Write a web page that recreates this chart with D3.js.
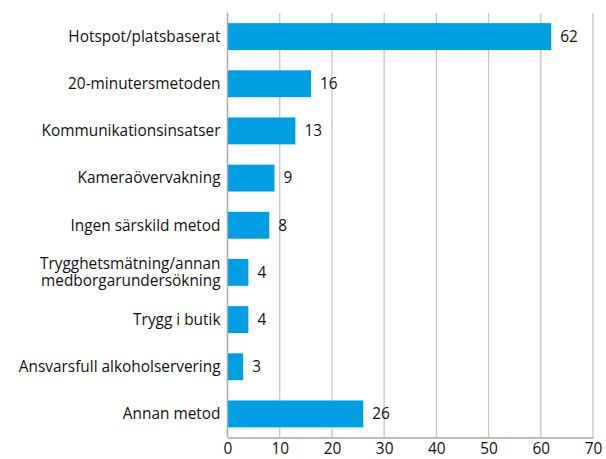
<!DOCTYPE html>
<html>
<head>
<meta charset="utf-8">
<script src="https://cdn.jsdelivr.net/npm/d3@7"></script>
<style>
  body { margin: 0; background: #fff; }
  text { font-family: "Open Sans", "Noto Sans", sans-serif; fill: #111; }
</style>
</head>
<body>
<div id="chart"></div>
<script>
// Data
var categories = [
    "Hotspot/platsbaserat",
    "20-minutersmetoden",
    "Kommunikationsinsatser",
    "Kameraövervakning",
    "Ingen särskild metod",
    "Trygghetsmätning/annan\nmedborgarundersökning",
    "Trygg i butik",
    "Ansvarsfull alkoholservering",
    "Annan metod"
];
var values = [62, 16, 13, 9, 8, 4, 4, 3, 26];
var xTicks = [0, 10, 20, 30, 40, 50, 60, 70];

var width = 606;
var height = 459;
var margin = { top: 13, right: 13, bottom: 21.5, left: 227.5 };
var fontSize = 15.4;

var svg = d3.select("#chart")
    .append("svg")
    .attr("width", width)
    .attr("height", height);

var x = d3.scaleLinear()
    .domain([0, 70])
    .range([margin.left, width - margin.right]);

var y = d3.scaleBand()
    .domain(categories)
    .range([margin.top, height - margin.bottom])
    .paddingInner(0.43)
    .paddingOuter(0.215);

// Vertical gridlines
svg.selectAll(".grid")
    .data(xTicks)
    .enter().append("line")
    .attr("class", "grid")
    .attr("x1", d => x(d))
    .attr("x2", d => x(d))
    .attr("y1", margin.top)
    .attr("y2", height - margin.bottom)
    .attr("stroke", "#c6c6c6")
    .attr("stroke-width", 1.3);

// Bars
svg.selectAll(".bar")
    .data(values)
    .enter().append("rect")
    .attr("class", "bar")
    .attr("x", x(0))
    .attr("y", (d, i) => y(categories[i]))
    .attr("width", d => x(d) - x(0))
    .attr("height", y.bandwidth())
    .attr("fill", "#009fe3");

// Value labels
svg.selectAll(".val")
    .data(values)
    .enter().append("text")
    .attr("class", "val")
    .attr("x", d => x(d) + 9)
    .attr("y", (d, i) => y(categories[i]) + y.bandwidth() / 2)
    .attr("dy", "0.35em")
    .attr("font-size", fontSize)
    .text(d => d);

// Bottom axis
var xAxis = d3.axisBottom(x)
    .tickValues(xTicks)
    .tickSize(0)
    .tickPadding(6);

var gx = svg.append("g")
    .attr("transform", "translate(0," + (height - margin.bottom) + ")")
    .call(xAxis);
gx.select(".domain").attr("stroke", "#a8a8a8").attr("stroke-width", 1.3);
gx.selectAll("text")
    .attr("font-size", fontSize)
    .attr("font-family", "'Open Sans', 'Noto Sans', sans-serif")
    .attr("fill", "#111");

// Left axis line
svg.append("line")
    .attr("x1", x(0)).attr("x2", x(0))
    .attr("y1", margin.top).attr("y2", height - margin.bottom)
    .attr("stroke", "#a8a8a8")
    .attr("stroke-width", 1.3);

// Category labels (support two-line labels)
var labels = svg.selectAll(".cat")
    .data(categories)
    .enter().append("text")
    .attr("class", "cat")
    .attr("text-anchor", "end")
    .attr("font-size", fontSize)
    .attr("x", x(0) - 7)
    .attr("y", d => y(d) + y.bandwidth() / 2);

labels.each(function (d) {
    var lines = d.split("\n");
    var el = d3.select(this);
    var lh = 17;
    lines.forEach(function (line, i) {
        el.append("tspan")
            .attr("x", x(0) - 7)
            .attr("dy", i === 0 ? (0.35 * fontSize - (lines.length - 1) * lh / 2) + "px" : lh + "px")
            .text(line);
    });
});
</script>
</body>
</html>
